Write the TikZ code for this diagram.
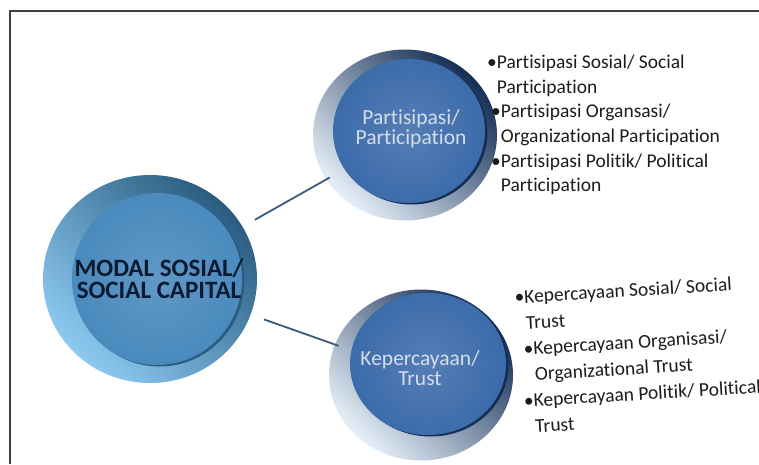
\documentclass[tikz,border=0pt]{standalone}
\usepackage{fontspec}
\setmainfont{Carlito}[Ligatures=NoCommon]
\usetikzlibrary{shapes.geometric}

\definecolor{capitalface}{HTML}{4A8ABD}
\definecolor{capitallight}{HTML}{8DCAF2}
\definecolor{capitalmid}{HTML}{5E9FD0}
\definecolor{capitaldark}{HTML}{2A5C80}
\definecolor{partface}{HTML}{3D6CAB}
\definecolor{partlight}{HTML}{E6F0F9}
\definecolor{partmid}{HTML}{4A78B4}
\definecolor{partdark}{HTML}{142E55}
\definecolor{linkblue}{HTML}{3C5A7D}
\definecolor{titlenavy}{HTML}{0B1A33}
\definecolor{facegrey}{HTML}{D5DDE8}
\definecolor{itemgrey}{HTML}{1C1C1C}

\tikzset{
  % dark crescent, then the face of the disc
  facedisc/.style n args={5}{path picture={
    \fill[#1] ([xshift=#3+2.5pt,yshift=#4-1.5pt]path picture bounding box.center) ellipse (#5);
    \shade[inner color=#2!88!white, outer color=#2] ([xshift=#3,yshift=#4]path picture bounding box.center) ellipse (#5);
  }},
  disc/.style={ellipse, inner sep=0pt},
  capital/.style={disc, minimum width=214pt, minimum height=208pt,
    left color=capitallight, middle color=capitalmid, right color=capitaldark, shading angle=135,
    facedisc={capitaldark}{capitalface}{7pt}{0pt}{85pt and 86pt}},
  dimension/.style={disc, minimum width=184pt, minimum height=171pt,
    left color=partlight, middle color=partmid, right color=partdark, shading angle=135},
  captitle/.style={font=\bfseries\fontsize{25}{22}\selectfont, text=titlenavy, align=center},
  facetitle/.style={font=\fontsize{21.5}{19.5}\selectfont, text=facegrey, align=center},
  items/.style={font=\fontsize{19.5}{24.6}\selectfont, text=itemgrey, align=left, inner sep=0pt},
  link/.style={draw=linkblue, line width=1.8pt, shorten <=14pt, shorten >=-4pt}
}

\begin{document}
\begin{tikzpicture}[x=1pt,y=-1pt]
\useasboundingbox (0,0) rectangle (759,464);
\fill[white] (0,0) rectangle (759,464);
\draw[line width=2.5pt, black!75] (10,464) -- (10,11) -- (759,11);

\node[capital, label={[captitle, xshift=9pt]center:{MODAL SOSIAL/\\SOCIAL CAPITAL}}] (modal) at (150,279) {};
\node[dimension, facedisc={partdark}{partface}{4pt}{4pt}{76pt and 72pt},
  label={[facetitle, xshift=6pt, yshift=6pt]center:{Partisipasi/\\Participation}}] (part) at (405,135) {};
\node[dimension, facedisc={partdark}{partface}{7pt}{11pt}{78pt and 71pt},
  label={[facetitle, xshift=-1pt, yshift=7pt]center:{Kepercayaan/\\Trust}}] (trust) at (421,375) {};

\draw[link] (modal) -- (part);
\draw[link] (modal) -- (trust);

\node[items, anchor=north west] (partlist) at (487,55) {%
  \textbullet Partisipasi Sosial/ Social\\
  \phantom{\textbullet}Participation\\
  \hspace*{4pt}\textbullet Partisipasi Organsasi/\\
  \hspace*{4pt}\phantom{\textbullet}Organizational Participation\\
  \hspace*{4pt}\textbullet Partisipasi Politik/ Political\\
  \hspace*{4pt}\phantom{\textbullet}Participation};
\node[items, anchor=north west, rotate=3.5, font=\fontsize{19.5}{26}\selectfont] (trustlist) at (514,290) {%
  \textbullet Kepercayaan Sosial/ Social\\
  \phantom{\textbullet}Trust\\
  \hspace*{6pt}\textbullet Kepercayaan Organisasi/\\
  \hspace*{6pt}\phantom{\textbullet}Organizational Trust\\
  \hspace*{3pt}\textbullet Kepercayaan Politik/ Political\\
  \hspace*{3pt}\phantom{\textbullet}Trust};
\end{tikzpicture}
\end{document}
